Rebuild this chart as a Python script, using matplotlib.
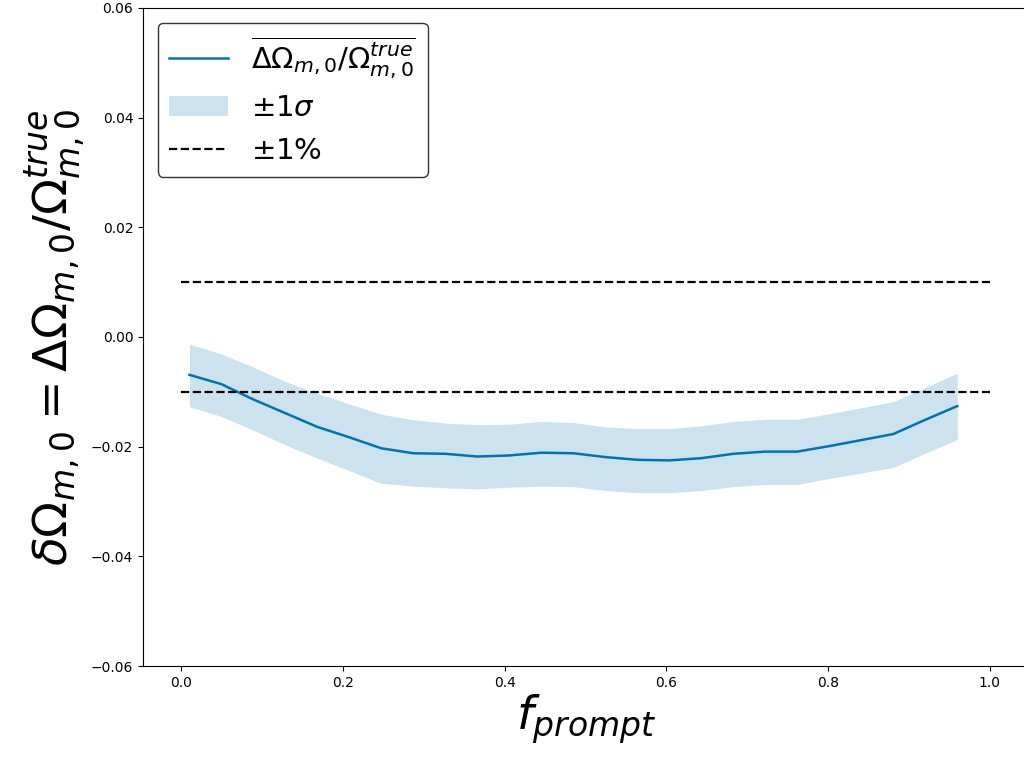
import numpy as np
import matplotlib
matplotlib.use("Agg")
import matplotlib.pyplot as plt

f_prompt = np.linspace(0.01, 0.96, 25)
mean_vals = [-0.0069, -0.0086, -0.0114, -0.0139, -0.0164, -0.0183, -0.0203, -0.0212,
             -0.0213, -0.0218, -0.0216, -0.0211, -0.0212, -0.0219, -0.0224, -0.0225,
             -0.0221, -0.0213, -0.0209, -0.0209, -0.0199, -0.0188, -0.0177, -0.0151,
             -0.0126]
upper_vals = [-0.0013, -0.0031, -0.0055, -0.0081, -0.0103, -0.0122, -0.0141, -0.0151,
              -0.0157, -0.0160, -0.0159, -0.0154, -0.0156, -0.0164, -0.0167, -0.0167,
              -0.0162, -0.0154, -0.0150, -0.0150, -0.0140, -0.0129, -0.0118, -0.0092,
              -0.0066]
lower_vals = [-0.0127, -0.0145, -0.0170, -0.0197, -0.0221, -0.0244, -0.0267, -0.0272,
              -0.0275, -0.0277, -0.0274, -0.0272, -0.0273, -0.0280, -0.0284, -0.0284,
              -0.0280, -0.0273, -0.0269, -0.0269, -0.0258, -0.0248, -0.0238, -0.0212,
              -0.0187]
limit_x = [0.0, 1.0]
limit_val = 0.01

color = "#0173b2"

fig = plt.figure(figsize=(10.24, 7.6), dpi=100)
ax = fig.add_axes([143/1024, 1-666/760, (1030-143)/1024, (666-8)/760])

ax.plot(f_prompt, mean_vals, color=color, lw=1.8,
        label=r'$\overline{\Delta\Omega_{m,0}/\Omega_{m,0}^{true}}$')
ax.fill_between(f_prompt, lower_vals, upper_vals, color=color, alpha=0.2,
                lw=0, label=r'$\pm1\sigma$')
ax.plot(limit_x, [limit_val, limit_val], 'k--', lw=1.6, label=r'$\pm1\%$')
ax.plot(limit_x, [-limit_val, -limit_val], 'k--', lw=1.6)

ax.set_xlim(-0.0475, 1.05)
ax.set_ylim(-0.06, 0.06)
ax.set_xticks([0.0, 0.2, 0.4, 0.6, 0.8, 1.0])
ax.set_yticks([-0.06, -0.04, -0.02, 0.0, 0.02, 0.04, 0.06])
ax.tick_params(labelsize=10)

ax.set_xlabel(r'$f_{prompt}$', fontsize=34, labelpad=2)
ax.set_ylabel(r'$\delta\Omega_{m,0}=\Delta\Omega_{m,0}/\Omega_{m,0}^{true}$', fontsize=34,
              labelpad=2)

leg = ax.legend(loc='upper left', fontsize=21, frameon=True, fancybox=True,
                edgecolor='#333333', framealpha=1.0, borderpad=0.4)
leg.get_frame().set_linewidth(1.0)

fig.savefig("out.png", dpi=100)
